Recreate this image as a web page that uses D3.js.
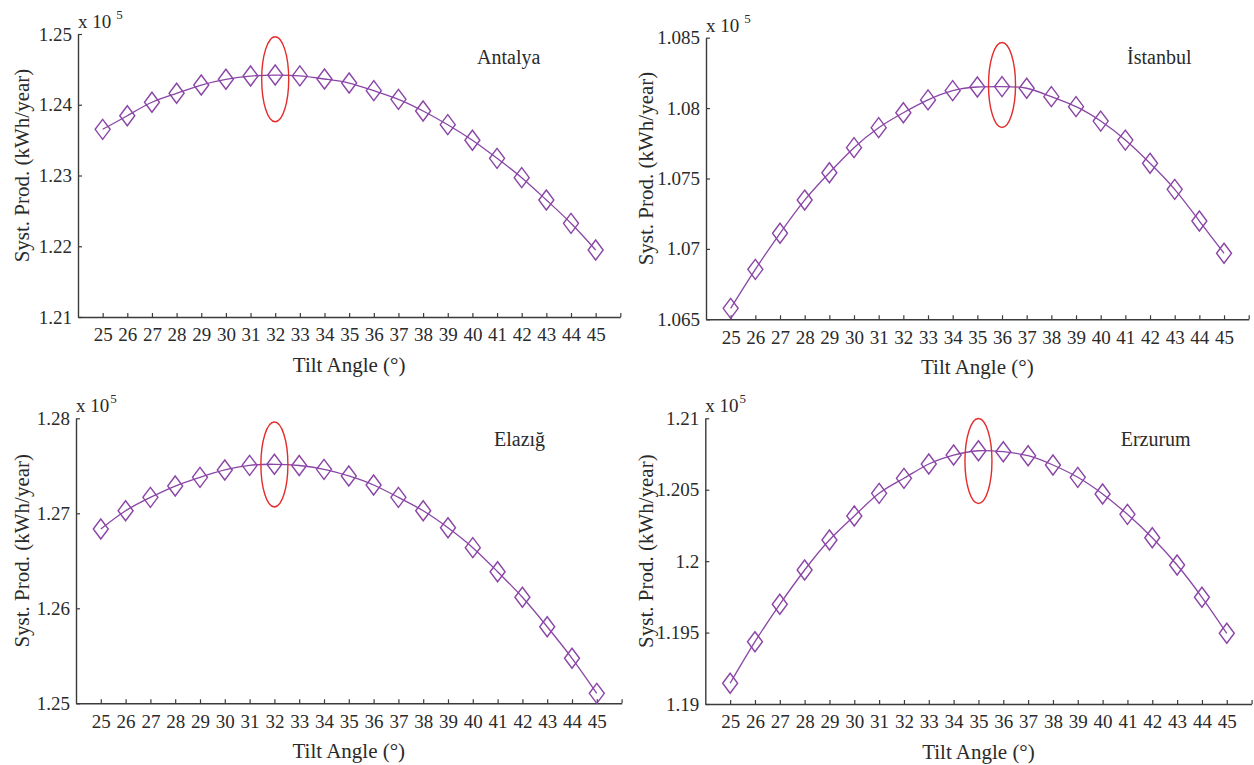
<!DOCTYPE html>
<html><head><meta charset="utf-8">
<script src="https://cdn.jsdelivr.net/npm/d3@7"></script>
<style>
body{margin:0;background:#fff}
svg text{font-family:'Liberation Serif','DejaVu Serif',serif !important;fill:#2a2a2a}
</style>
</head><body>
<svg id="chart" width="1254" height="765"></svg>
<script>
// ---- data (values in units of 10^5 kWh/year) ----
const angles = [25,26,27,28,29,30,31,32,33,34,35,36,37,38,39,40,41,42,43,44,45];
const antalya  = [1.23653,1.23845,1.24035,1.24162,1.24279,1.24360,1.24406,1.24420,1.24408,1.24364,1.24307,1.24199,1.24077,1.23912,1.23718,1.23498,1.23243,1.22969,1.22654,1.22324,1.21947];
const istanbul = [1.06578,1.06855,1.07111,1.07347,1.07541,1.07719,1.07861,1.07967,1.08058,1.08124,1.08150,1.08153,1.08141,1.08081,1.08010,1.07908,1.07773,1.07608,1.07423,1.07198,1.06969];
const elazig   = [1.26835,1.27027,1.27168,1.27287,1.27379,1.27456,1.27505,1.27516,1.27503,1.27463,1.27393,1.27298,1.27168,1.27027,1.26848,1.26638,1.26385,1.26116,1.25806,1.25474,1.25105];
const erzurum  = [1.19145,1.19436,1.19698,1.19938,1.20148,1.20316,1.20475,1.20580,1.20680,1.20743,1.20773,1.20766,1.20738,1.20673,1.20587,1.20470,1.20328,1.20164,1.19973,1.19747,1.19495];

const antalyaTicks  = [1.21,1.22,1.23,1.24,1.25];
const istanbulTicks = [1.065,1.07,1.075,1.08,1.085];
const elazigTicks   = [1.25,1.26,1.27,1.28];
const erzurumTicks  = [1.19,1.195,1.2,1.205,1.21];

const cityNames   = ["Antalya","İstanbul","Elazığ","Erzurum"];
const optimumAngle = [32,36,32,35];
const ellipseCenterValue = [1.24361,1.08164,1.27514,1.20701];

const xLabel = "Tilt Angle (°)";
const yLabel = "Syst. Prod. (kWh/year)";
const xDomain = [24,46];

// ---- layout / style ----
const FONT = "'Liberation Serif','DejaVu Serif',serif";
const layout = [
  {data:antalya,  ticks:antalyaTicks,  left:78,    right:620.3,  top:34,    bottom:317,   ylx:29.3,  tx:477,    ty:64,    supGap:5},
  {data:istanbul, ticks:istanbulTicks, left:706,   right:1248.7, top:37.7,  bottom:319.3, ylx:653.3, tx:1127,   ty:64,    supGap:5},
  {data:elazig,   ticks:elazigTicks,   left:76,    right:621.6,  top:418.3, bottom:703.3, ylx:29.3,  tx:494,    ty:445.7, supGap:1},
  {data:erzurum,  ticks:erzurumTicks,  left:705.3, right:1251.6, top:418.3, bottom:704,   ylx:653.3, tx:1120.7, ty:445.7, supGap:1}
];
const purple = "#8a45a6", red = "#e42c2c", axisCol = "#3b3b3b";

const svg = d3.select("#chart").attr("font-family", FONT);

layout.forEach((p, i) => {
  const x = d3.scaleLinear().domain(xDomain).range([p.left, p.right]);
  const y = d3.scaleLinear().domain(d3.extent(p.ticks)).range([p.bottom, p.top]);
  const g = svg.append("g").attr("font-family", FONT);

  // axes
  const xa = g.append("g").attr("transform", `translate(0,${p.bottom})`)
    .call(d3.axisBottom(x).tickValues(angles.concat([xDomain[1]]))
      .tickFormat(d => d === xDomain[1] ? "" : d).tickSizeInner(-4).tickSizeOuter(0).tickPadding(11));
  const ya = g.append("g").attr("transform", `translate(${p.left},0)`)
    .call(d3.axisLeft(y).tickValues(p.ticks).tickFormat(d => String(d))
      .tickSizeInner(-4).tickSizeOuter(0).tickPadding(6));
  [xa, ya].forEach(a => {
    a.attr("font-family", FONT).attr("font-size", 19);
    a.select(".domain").attr("stroke", axisCol).attr("stroke-width", 1.4);
    a.selectAll(".tick line").attr("stroke", axisCol).attr("stroke-width", 1.2);
    a.selectAll(".tick text").attr("fill", "#2a2a2a").attr("font-family", FONT).style("font-size", "19px");
  });

  // multiplier
  const m = g.append("text").attr("x", p.left).attr("y", p.top - 6).style("font-size", "19px");
  m.append("tspan").text("x 10");
  m.append("tspan").attr("dx", p.supGap).attr("dy", -9).style("font-size", "13px").text("5");

  // axis labels
  g.append("text").attr("x", (p.left + p.right) / 2).attr("y", p.bottom + 55)
    .attr("text-anchor", "middle").style("font-size", "21px").text(xLabel);
  g.append("text").attr("transform", `translate(${p.ylx},${(p.top + p.bottom) / 2 - 10}) rotate(-90)`)
    .attr("text-anchor", "middle").style("font-size", "21px").text(yLabel);

  // title
  g.append("text").attr("x", p.tx).attr("y", p.ty).style("font-size", "20px").text(cityNames[i]);

  // curve
  const pts = angles.map((a, k) => [a, p.data[k]]);
  g.append("path").datum(pts)
    .attr("d", d3.line().x(d => x(d[0])).y(d => y(d[1])).curve(d3.curveNatural))
    .attr("fill", "none").attr("stroke", purple).attr("stroke-width", 1.3);

  // markers
  g.selectAll("path.mk").data(pts).join("path").attr("class", "mk")
    .attr("d", "M0,-10L7.5,0L0,10L-7.5,0Z")
    .attr("transform", d => `translate(${x(d[0])},${y(d[1])})`)
    .attr("fill", "none").attr("stroke", purple).attr("stroke-width", 1.4);

  // optimum ellipse
  g.append("ellipse").attr("cx", x(optimumAngle[i])).attr("cy", y(ellipseCenterValue[i]))
    .attr("rx", 13.5).attr("ry", 42.5).attr("fill", "none").attr("stroke", red).attr("stroke-width", 1.4);
});
</script>
</body></html>
